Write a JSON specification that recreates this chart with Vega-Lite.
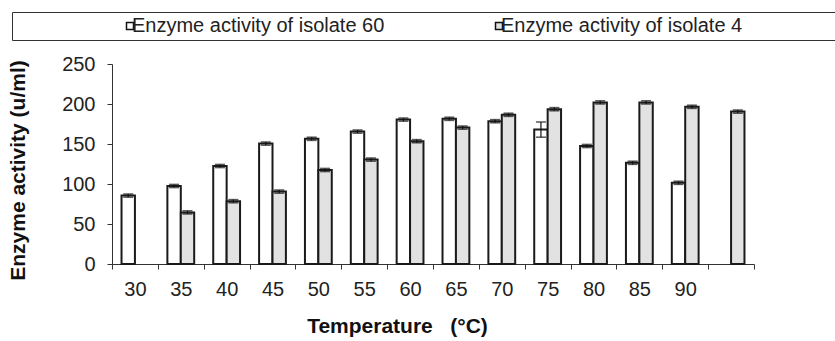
{
  "$schema": "https://vega.github.io/schema/vega-lite/v6.json",
  "width": 642,
  "height": 200,
  "autosize": {"type": "none"},
  "padding": {"left": 112, "top": 64, "right": 81, "bottom": 77},
  "background": "white",
  "config": {
    "view": {"stroke": null},
    "font": "Liberation Sans",
    "axis": {"domainColor": "#333", "tickColor": "#333", "labelColor": "#222", "titleColor": "#111", "grid": false, "labelFontSize": 20, "titleFontSize": 21, "titleFontWeight": "bold", "tickSize": 5}
  },
  "data": {
    "values": [
      {"temp": "30", "series": "Enzyme activity of isolate 60", "value": 85.5, "lo": 83.5, "hi": 87.5},
      {"temp": "35", "series": "Enzyme activity of isolate 60", "value": 97.5, "lo": 95.5, "hi": 99.5},
      {"temp": "40", "series": "Enzyme activity of isolate 60", "value": 122.5, "lo": 120.5, "hi": 124.5},
      {"temp": "45", "series": "Enzyme activity of isolate 60", "value": 150.5, "lo": 148.5, "hi": 152.5},
      {"temp": "50", "series": "Enzyme activity of isolate 60", "value": 156.5, "lo": 154.5, "hi": 158.5},
      {"temp": "55", "series": "Enzyme activity of isolate 60", "value": 165.5, "lo": 163.5, "hi": 167.5},
      {"temp": "60", "series": "Enzyme activity of isolate 60", "value": 180.5, "lo": 178.5, "hi": 182.5},
      {"temp": "65", "series": "Enzyme activity of isolate 60", "value": 181.5, "lo": 179.5, "hi": 183.5},
      {"temp": "70", "series": "Enzyme activity of isolate 60", "value": 178.5, "lo": 176.5, "hi": 180.5},
      {"temp": "75", "series": "Enzyme activity of isolate 60", "value": 168, "lo": 158.5, "hi": 177.5},
      {"temp": "80", "series": "Enzyme activity of isolate 60", "value": 147.5, "lo": 145.5, "hi": 149.5},
      {"temp": "85", "series": "Enzyme activity of isolate 60", "value": 126.5, "lo": 124.5, "hi": 128.5},
      {"temp": "90", "series": "Enzyme activity of isolate 60", "value": 101.5, "lo": 99.5, "hi": 103.5},
      {"temp": "35", "series": "Enzyme activity of isolate 4", "value": 64.5, "lo": 62.5, "hi": 66.5},
      {"temp": "40", "series": "Enzyme activity of isolate 4", "value": 78.5, "lo": 76.5, "hi": 80.5},
      {"temp": "45", "series": "Enzyme activity of isolate 4", "value": 90.5, "lo": 88.5, "hi": 92.5},
      {"temp": "50", "series": "Enzyme activity of isolate 4", "value": 117.5, "lo": 115.5, "hi": 119.5},
      {"temp": "55", "series": "Enzyme activity of isolate 4", "value": 130.5, "lo": 128.5, "hi": 132.5},
      {"temp": "60", "series": "Enzyme activity of isolate 4", "value": 153.5, "lo": 151.5, "hi": 155.5},
      {"temp": "65", "series": "Enzyme activity of isolate 4", "value": 170.5, "lo": 168.5, "hi": 172.5},
      {"temp": "70", "series": "Enzyme activity of isolate 4", "value": 186.5, "lo": 184.5, "hi": 188.5},
      {"temp": "75", "series": "Enzyme activity of isolate 4", "value": 193.5, "lo": 191.5, "hi": 195.5},
      {"temp": "80", "series": "Enzyme activity of isolate 4", "value": 202, "lo": 200, "hi": 204},
      {"temp": "85", "series": "Enzyme activity of isolate 4", "value": 202, "lo": 200, "hi": 204},
      {"temp": "90", "series": "Enzyme activity of isolate 4", "value": 196.5, "lo": 194.5, "hi": 198.5},
      {"temp": "", "series": "Enzyme activity of isolate 4", "value": 190.5, "lo": 188.5, "hi": 192.5}
    ]
  },
  "encoding": {
    "x": {
      "field": "temp", "type": "ordinal",
      "sort": ["30", "35", "40", "45", "50", "55", "60", "65", "70", "75", "80", "85", "90", ""],
      "scale": {"paddingInner": 0, "paddingOuter": 0},
      "axis": {"labelAngle": 0, "tickBand": "extent", "labelPadding": 10, "title": "Temperature\u00a0\u00a0\u00a0(°C)", "titleX": 285, "titleY": 62, "titleBaseline": "middle"}
    },
    "xOffset": {
      "field": "series", "type": "nominal",
      "sort": ["Enzyme activity of isolate 60", "Enzyme activity of isolate 4"],
      "scale": {"paddingInner": 0, "paddingOuter": 0.71}
    }
  },
  "layer": [
    {
      "mark": {"type": "bar", "stroke": "#1a1a1a", "strokeWidth": 2},
      "encoding": {
        "y": {
          "field": "value", "type": "quantitative",
          "scale": {"domain": [0, 250], "nice": false},
          "axis": {"values": [0, 50, 100, 150, 200, 250], "labelOverlap": false, "labelPadding": 12, "title": "Enzyme activity (u/ml)", "titleX": -94, "titleY": 106, "titleBaseline": "middle", "titleAngle": -90}
        },
        "color": {
          "field": "series", "type": "nominal",
          "sort": ["Enzyme activity of isolate 60", "Enzyme activity of isolate 4"],
          "scale": {"domain": ["Enzyme activity of isolate 60", "Enzyme activity of isolate 4"], "range": ["#ffffff", "#e2e2e2"]},
          "legend": {
            "orient": "none", "legendX": -100, "legendY": -52, "direction": "horizontal",
            "title": " ", "titleOrient": "right", "titlePadding": 95,
            "padding": 4, "strokeColor": "#333", "columnPadding": 0, "symbolOffset": 104,
            "symbolType": "square", "symbolSize": 49, "symbolStrokeColor": "#111", "symbolStrokeWidth": 1.5,
            "labelFontSize": 20, "labelColor": "#222", "labelOffset": -8, "labelLimit": 400
          }
        }
      }
    },
    {
      "mark": {"type": "rule", "color": "#111", "strokeWidth": 1.2},
      "encoding": {
        "y": {"field": "lo", "type": "quantitative", "axis": {"values": [0, 50, 100, 150, 200, 250], "labelOverlap": false, "labelPadding": 12, "title": "Enzyme activity (u/ml)", "titleX": -94, "titleY": 106, "titleBaseline": "middle", "titleAngle": -90}},
        "y2": {"field": "hi"}
      }
    },
    {
      "mark": {"type": "tick", "color": "#111", "size": 10, "thickness": 1.5},
      "encoding": {"y": {"field": "hi", "type": "quantitative", "axis": {"values": [0, 50, 100, 150, 200, 250], "labelOverlap": false, "labelPadding": 12, "title": "Enzyme activity (u/ml)", "titleX": -94, "titleY": 106, "titleBaseline": "middle", "titleAngle": -90}}}
    },
    {
      "mark": {"type": "tick", "color": "#111", "size": 10, "thickness": 1.5},
      "encoding": {"y": {"field": "lo", "type": "quantitative", "axis": {"values": [0, 50, 100, 150, 200, 250], "labelOverlap": false, "labelPadding": 12, "title": "Enzyme activity (u/ml)", "titleX": -94, "titleY": 106, "titleBaseline": "middle", "titleAngle": -90}}}
    }
  ]
}
